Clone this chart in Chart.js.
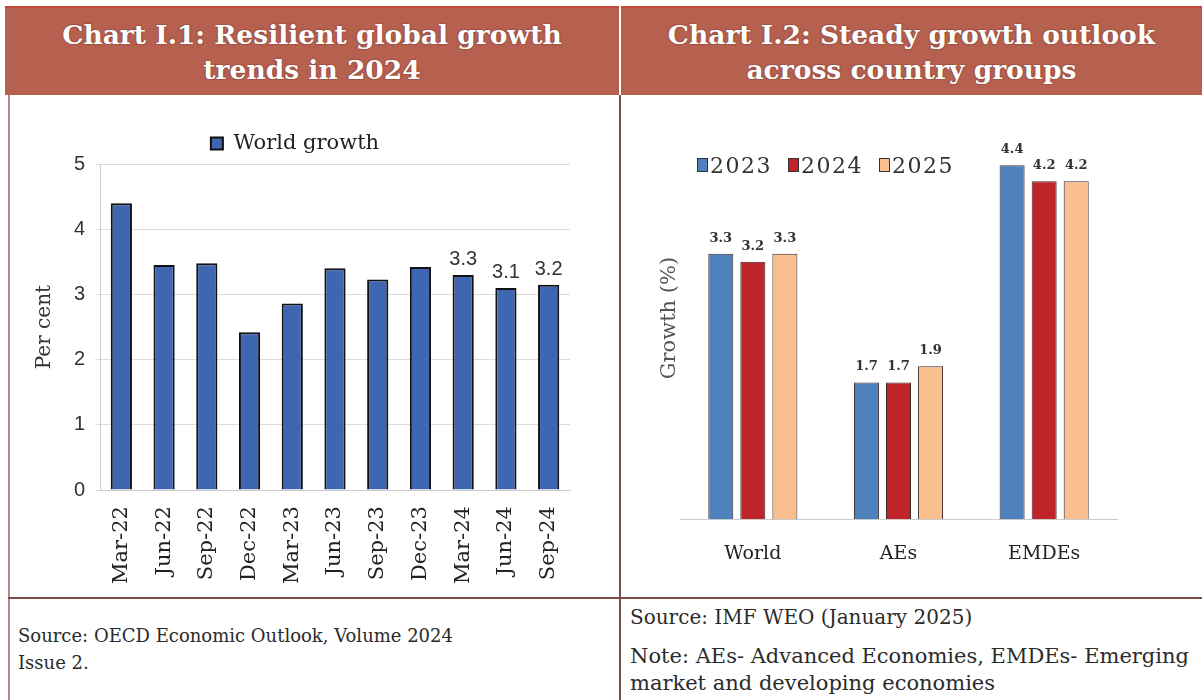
<!DOCTYPE html>
<html>
<head>
<meta charset="utf-8">
<script src="https://cdn.jsdelivr.net/npm/chart.js@4.4.1/dist/chart.umd.min.js"></script>
<style>
  body { margin: 0; background: #fff; }
  #page { position: relative; width: 1202px; height: 700px; overflow: hidden; background: #fff; font-family: "DejaVu Serif", serif; }
  .head { position: absolute; top: 6px; height: 89px; background: #b6604f; color: #fff; font-weight: bold; font-size: 26.5px; line-height: 35px; text-align: center; display: flex; align-items: center; justify-content: center; text-shadow: 0 0 2px #6b2f25; border-top: 2px solid #c0473a; box-sizing: border-box; }
  .line { position: absolute; background: #7d4c48; }
  .foot { position: absolute; color: #2b2b2b; }
  canvas { position: absolute; }
  #legend2 { position: absolute; left: 697px; top: 153px; display: flex; font-size: 22px; letter-spacing: 1.5px; color: #333; }
  #legend2 div { width: 91px; white-space: nowrap; }
  #legend2 span.box { display: inline-block; width: 9px; height: 12px; border: 1px solid #333; margin-right: 2px; vertical-align: 1px; }
</style>
</head>
<body>
<div id="page">
  <div class="head" style="left:5px;width:614px;">Chart I.1: Resilient global growth<br>trends in 2024</div>
  <div class="head" style="left:621px;width:581px;">Chart I.2: Steady growth outlook<br>across country groups</div>
  <div class="line" style="left:8px;top:95px;width:2px;height:605px;background:#b58a86;"></div>
  <div class="line" style="left:619px;top:95px;width:2px;height:605px;"></div>
  <div class="line" style="left:8px;top:597px;width:1194px;height:2px;"></div>
  <canvas id="c1" width="608" height="499" style="left:10px;top:97px;"></canvas>
  <canvas id="c2" width="581" height="499" style="left:621px;top:97px;"></canvas>
  <div id="legend2"></div>
  <div class="foot" style="left:18px;top:622px;font-size:18px;line-height:27px;">Source: OECD Economic Outlook, Volume 2024<br>Issue 2.</div>
  <div class="foot" style="left:630px;top:603px;font-size:20px;line-height:28px;">Source: IMF WEO (January 2025)</div>
  <div class="foot" style="left:630px;top:643px;font-size:21px;line-height:27px;">Note: AEs- Advanced Economies, EMDEs- Emerging<br>market and developing economies</div>
</div>
<script>
// Chart I.1 data
const periods = ['Mar-22','Jun-22','Sep-22','Dec-22','Mar-23','Jun-23','Sep-23','Dec-23','Mar-24','Jun-24','Sep-24'];
const worldGrowth = [4.4, 3.45, 3.48, 2.42, 2.86, 3.4, 3.23, 3.42, 3.3, 3.1, 3.15];
const worldLabels = ['', '', '', '', '', '', '', '', '3.3', '3.1', '3.2'];
const leftTickMin = 0;
const leftTickMax = 5;

// Chart I.2 data
const groups = ['World', 'AEs', 'EMDEs'];
const years = ['2023', '2024', '2025'];
const growth2023 = [3.3, 1.7, 4.4];
const growth2024 = [3.2, 1.7, 4.2];
const growth2025 = [3.3, 1.9, 4.2];
const yearColors = ['#4f81bd', '#c0242b', '#f9bf8f'];

// draws text above bars
const barLabels = {
  id: 'barLabels',
  afterDatasetsDraw(chart, args, opts) {
    const ctx = chart.ctx;
    ctx.save();
    ctx.font = opts.font;
    ctx.fillStyle = opts.color;
    ctx.textAlign = 'center';
    ctx.textBaseline = 'bottom';
    chart.data.datasets.forEach((ds, i) => {
      const meta = chart.getDatasetMeta(i);
      meta.data.forEach((bar, j) => {
        const txt = opts.texts(i, j);
        if (txt) ctx.fillText(txt, bar.x, bar.y - opts.gap);
      });
    });
    ctx.restore();
  }
};

new Chart(document.getElementById('c1'), {
  type: 'bar',
  data: {
    labels: periods,
    datasets: [{
      label: 'World growth',
      data: worldGrowth,
      backgroundColor: '#3f66b1',
      borderColor: '#111',
      borderWidth: 2,
      categoryPercentage: 0.8,
      barPercentage: 0.62
    }]
  },
  options: {
    responsive: false,
    animation: false,
    layout: { padding: { left: 10, right: 48, top: 28, bottom: 4 } },
    plugins: {
      legend: {
        labels: { font: { family: 'DejaVu Serif', size: 21 }, color: '#222', boxWidth: 12, boxHeight: 12, padding: 8 }
      },
      tooltip: { enabled: false },
      barLabels: {
        font: '20px "Liberation Sans"',
        color: '#333',
        gap: 5,
        texts: (i, j) => worldLabels[j]
      }
    },
    scales: {
      x: {
        grid: { display: false },
        border: { color: '#ccc' },
        ticks: { minRotation: 90, maxRotation: 90, autoSkip: false, padding: 8, color: '#222', font: { family: 'DejaVu Serif', size: 21 } }
      },
      y: {
        min: leftTickMin,
        max: leftTickMax,
        afterFit: (s) => { s.width = 80; },
        grid: { color: '#dcdcdc', tickLength: 5 },
        border: { color: '#ccc' },
        ticks: { stepSize: 1, padding: 10, color: '#333', font: { family: 'Liberation Sans', size: 20 } },
        title: { display: true, text: 'Per cent', color: '#333', font: { family: 'DejaVu Serif', size: 20 }, padding: { top: 13, bottom: 0 } }
      }
    }
  },
  plugins: [barLabels]
});

const yearData = [growth2023, growth2024, growth2025];
new Chart(document.getElementById('c2'), {
  type: 'bar',
  data: {
    labels: groups,
    datasets: years.map((y, i) => ({
      label: y,
      data: yearData[i],
      backgroundColor: yearColors[i],
      borderColor: '#3a2a2a',
      borderWidth: 1,
      categoryPercentage: 0.66,
      barPercentage: 0.78
    }))
  },
  options: {
    responsive: false,
    animation: false,
    layout: { padding: { left: 25, right: 85, top: 20, bottom: 16 } },
    plugins: {
      legend: { display: false },
      tooltip: { enabled: false },
      barLabels: {
        font: 'bold 13px "DejaVu Serif"',
        color: '#333',
        gap: 9,
        texts: (i, j) => yearData[i][j].toFixed(1)
      }
    },
    scales: {
      x: {
        grid: { display: false },
        border: { color: '#ccc' },
        ticks: { padding: 15, color: '#222', font: { family: 'DejaVu Serif', size: 19 } }
      },
      y: {
        min: 0,
        max: 5,
        afterFit: (s) => { s.width = 34; },
        grid: { display: false },
        border: { display: false },
        ticks: { display: false },
        title: { display: true, text: 'Growth (%)', color: '#555', font: { family: 'DejaVu Serif', size: 21 }, padding: { top: 11, bottom: 0 } }
      }
    }
  },
  plugins: [barLabels]
});

// legend for chart I.2
const lg = document.getElementById('legend2');
years.forEach((y, i) => {
  const item = document.createElement('div');
  item.innerHTML = '<span class="box" style="background:' + yearColors[i] + '"></span>' + y;
  lg.appendChild(item);
});
</script>
</body>
</html>
